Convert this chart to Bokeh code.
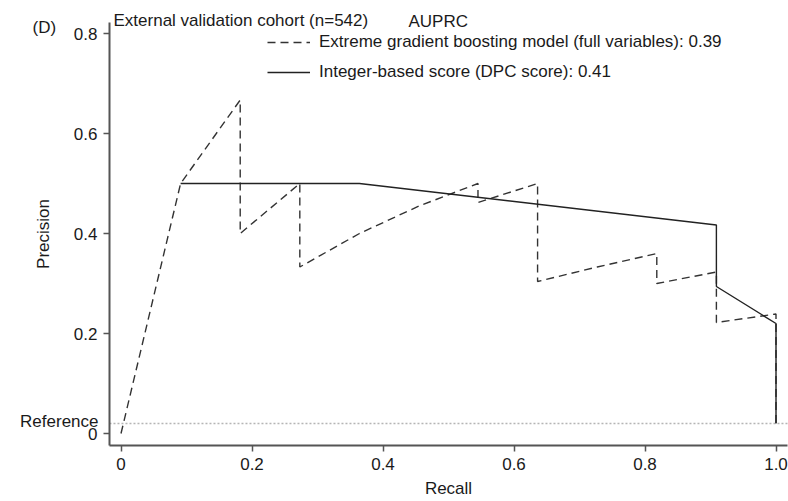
from bokeh.plotting import figure
from bokeh.models import Label, Legend, LegendItem, FixedTicker, Range1d, LinearAxis
from bokeh.embed import file_html
from bokeh.resources import INLINE

# ---- data ----
xgb_recall = [0.0, 0.091, 0.182, 0.182, 0.273, 0.273, 0.364, 0.455, 0.545, 0.545,
              0.636, 0.636, 0.727, 0.818, 0.818, 0.909, 0.909, 1.0, 1.0]
xgb_precision = [0.0, 0.5, 0.667, 0.4, 0.5, 0.333, 0.4, 0.455, 0.5, 0.462,
                 0.5, 0.304, 0.333, 0.36, 0.30, 0.323, 0.222, 0.239, 0.02]

dpc_recall = [0.091, 0.182, 0.273, 0.364, 0.909, 0.909, 1.0, 1.0]
dpc_precision = [0.5, 0.5, 0.5, 0.5, 0.417, 0.294, 0.22, 0.02]

reference_precision = 0.02

xgb_label = "Extreme gradient boosting model (full variables): 0.39"
dpc_label = "Integer-based score (DPC score): 0.41"

x_ticks = [0, 0.2, 0.4, 0.6, 0.8, 1.0]
x_tick_labels = ["0", "0.2", "0.4", "0.6", "0.8", "1.0"]
y_ticks = [0, 0.2, 0.4, 0.6, 0.8]
y_tick_labels = ["0", "0.2", "0.4", "0.6", "0.8"]

# axis extents (data units)
X_AXIS_LO, X_AXIS_HI = -0.0176, 1.0176
Y_AXIS_LO, Y_AXIS_HI = -0.024, 0.822

FONT = "Liberation Sans"
FS = "17px"
TXT = "#1a1a1a"
AX = "#555555"

W, H = 788, 501
X0_PX, X_SCALE = 120.5, 655.0   # pixel of recall 0, pixels per unit
Y0_PX, Y_SCALE = 433.0, 500.0   # pixel of precision 0, pixels per unit

p = figure(width=W, height=H,
           x_range=Range1d(-X0_PX / X_SCALE, (W - X0_PX) / X_SCALE),
           y_range=Range1d((Y0_PX - H) / Y_SCALE, Y0_PX / Y_SCALE),
           x_axis_location=None, y_axis_location=None,
           output_backend="svg", toolbar_location=None,
           min_border=0, min_border_left=0, min_border_right=0,
           min_border_top=0, min_border_bottom=0)

p.outline_line_color = None
p.grid.visible = False
p.background_fill_color = "white"
p.border_fill_color = "white"

xaxis = LinearAxis(fixed_location=Y_AXIS_LO, bounds=(X_AXIS_LO, X_AXIS_HI),
                   ticker=FixedTicker(ticks=x_ticks),
                   major_label_overrides={t: l for t, l in zip(x_ticks, x_tick_labels)},
                   axis_label="Recall", major_label_standoff=6, axis_label_standoff=6)
yaxis = LinearAxis(fixed_location=X_AXIS_LO, bounds=(Y_AXIS_LO, Y_AXIS_HI),
                   ticker=FixedTicker(ticks=y_ticks),
                   major_label_overrides={t: l for t, l in zip(y_ticks, y_tick_labels)},
                   axis_label="Precision", major_label_standoff=6, axis_label_standoff=18)

for ax in (xaxis, yaxis):
    ax.axis_line_color = AX
    ax.axis_line_width = 2
    ax.major_tick_line_color = AX
    ax.major_tick_line_width = 1.5
    ax.major_tick_out = 6
    ax.major_tick_in = 0
    ax.minor_tick_line_color = None
    ax.major_label_text_font = FONT
    ax.major_label_text_font_size = FS
    ax.major_label_text_color = TXT
    ax.axis_label_text_font = FONT
    ax.axis_label_text_font_size = FS
    ax.axis_label_text_color = TXT
    ax.axis_label_text_font_style = "normal"

p.add_layout(xaxis, "below")
p.add_layout(yaxis, "left")

# reference line across the axis extent
p.segment(x0=[X_AXIS_LO], x1=[X_AXIS_HI], y0=[reference_precision], y1=[reference_precision],
          line_color="#b5b5b5", line_width=1.5, line_dash="2 2")

r_xgb = p.line(xgb_recall, xgb_precision, line_color="#333333", line_width=1.4,
               line_dash="8 5")
r_dpc = p.line(dpc_recall, dpc_precision, line_color="#222222", line_width=1.4)

legend = Legend(items=[LegendItem(label=xgb_label, renderers=[r_xgb]),
                       LegendItem(label=dpc_label, renderers=[r_dpc])],
                location=(267, H - 32 - 50), orientation="vertical",
                padding=0, margin=0, spacing=10,
                glyph_width=43, glyph_height=20, label_height=20, label_standoff=9,
                border_line_alpha=0, background_fill_alpha=0,
                label_text_font=FONT, label_text_font_size=FS, label_text_color=TXT)
p.add_layout(legend, "center")


def px_x(px):
    return (px - X0_PX) / X_SCALE


def px_y(py):
    return (Y0_PX - py) / Y_SCALE


def add_text(txt, px, py, align="left"):
    p.add_layout(Label(x=px_x(px), y=px_y(py), text=txt, text_font=FONT,
                       text_font_size=FS, text_color=TXT, text_align=align,
                       text_baseline="alphabetic"))


add_text("(D)", 32, 26.5)
add_text("External validation cohort (n=542)", 113, 19.5)
add_text("AUPRC", 408, 20.5)
add_text("Reference", 98, 420.5, align="right")

open("out.html", "w").write(file_html(p, INLINE))
